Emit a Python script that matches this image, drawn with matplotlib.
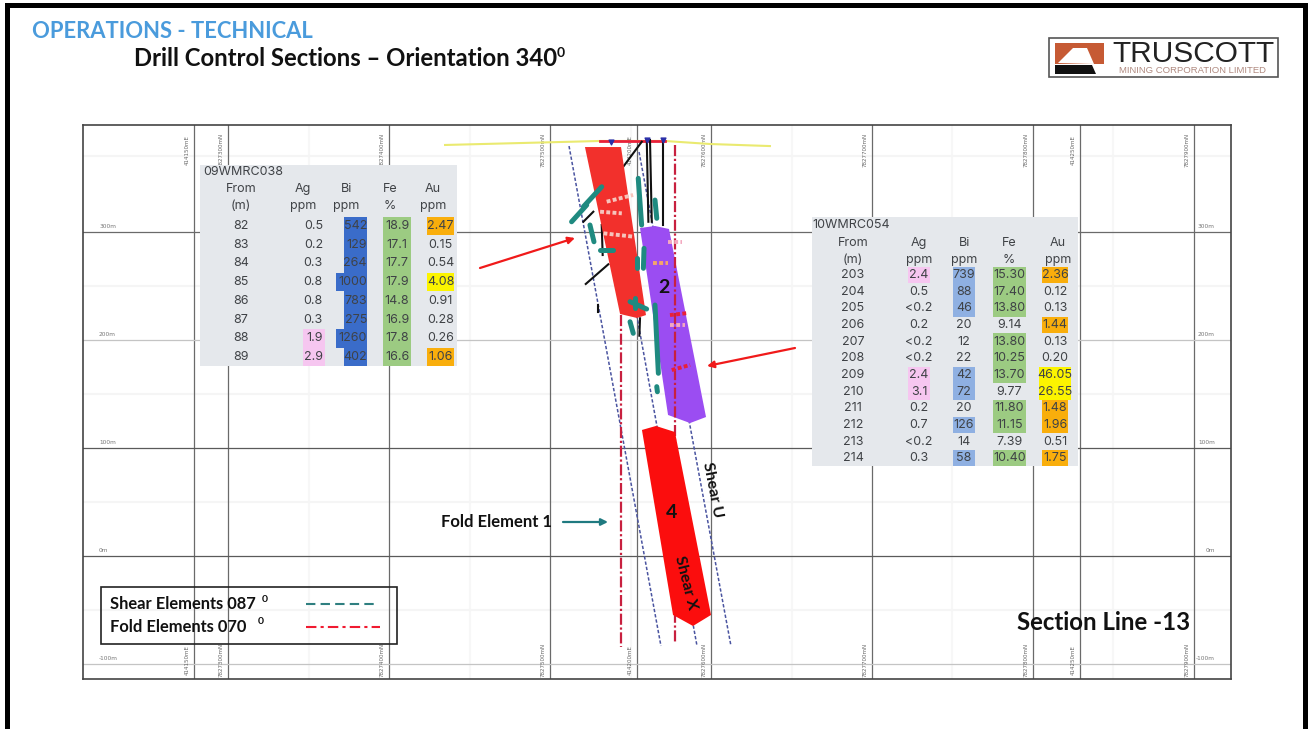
import matplotlib
matplotlib.use("Agg")
import matplotlib.pyplot as plt
from matplotlib.patches import Polygon, Rectangle

# section coordinates: northing given as metres past 7827000, RL in metres
NORTH_BASE = 7827000

northing_grid = [300, 400, 500, 600, 700, 800, 900]
easting_grid = [414150, 414200, 414250]
easting_grid_pos = [278.9, 554.0, 829.0]   # where the eastings fall on the northing scale
rl_grid = [300, 200, 100, 0, -100]
rl_grid_col = ["#6a6a6a", "#c4c4c4", "#5a5a5a", "#5a5a5a", "#c4c4c4"]
faint_north = [350, 450, 550, 650, 750, 850]
faint_rl = [370, 250, 150, 50, -50]

surface_n = [434.8, 531.1, 571.4, 599.4, 636.6]
surface_rl = [380.6, 384.3, 384.3, 381.5, 379.6]

lode1_n = [521.7, 544.1, 559.6, 554.0, 543.5]
lode1_rl = [378.7, 378.7, 223.1, 220.4, 224.1]
lode2_n = [555.9, 565.2, 573.9, 596.9, 587.0, 573.3]
lode2_rl = [303.7, 305.6, 302.8, 128.7, 123.1, 130.6]
lode4_n = [557.1, 565.8, 577.6, 600.0, 588.8, 576.4]
lode4_rl = [116.7, 120.4, 114.8, -54.6, -64.8, -54.6]

shear_n = [(511.8, 568.9), (535.4, 591.3), (555.3, 612.4)]
shear_rl = [(379.6, -83.3), (374.1, -83.3), (374.1, -83.3)]
fold_n = [(544.1, 544.1), (577.6, 577.6)]
fold_rl = [(223.0, -84.3), (380.6, -80.6)]

holes_n = [(557.0, 545.5), (560.1, 561.1), (562.1, 563.2), (570.4, 570.4), (526.9, 520.7),
           (536.2, 522.2), (532.1, 532.7), (555.9, 555.5), (530.0, 530.0), (540.4, 545.5)]
holes_rl = [(383.6, 360.5), (385.2, 309.5), (385.2, 309.5), (385.2, 306.5), (318.8, 309.5),
            (270.1, 251.9), (306.5, 278.7), (220.1, 204.0), (232.4, 226.2), (277.1, 281.8)]
collar_n = [537.9, 560.3, 570.2]
collar_rl = [383.3, 385.2, 385.2]

teal_n = [(532.1, 520.7), (522.8, 513.4), (524.8, 527.3), (531.1, 539.3), (554.8, 556.9),
          (565.2, 566.3), (558.4, 558.0), (553.9, 553.9), (549.7, 560.0), (552.8, 552.8),
          (565.2, 567.3), (549.7, 551.7), (566.3, 566.7)]
teal_rl = [(341.9, 323.4), (325.0, 309.5), (306.5, 291.0), (283.3, 283.3), (349.7, 306.5),
           (329.6, 312.7), (284.9, 266.4), (275.6, 266.4), (235.5, 228.7), (238.6, 229.4),
           (232.4, 169.2), (216.9, 206.2), (156.8, 152.1)]
assay_n = [(535.2, 551.6), (531.1, 544.6), (533.2, 551.9), (564.0, 573.3), (574.5, 585.7),
           (575.6, 587.0), (574.5, 583.9), (573.3, 581.8)]
assay_rl = [(328.1, 334.3), (318.8, 317.3), (298.8, 295.7), (271.3, 271.3), (223.1, 225.0),
            (172.2, 176.9), (213.9, 213.9), (291.0, 291.0)]
assay_col = ["#f6c4bc", "#f6c4bc", "#f6c4bc", "#f5a56a", "#e8203a", "#e8203a", "#f3a9c0", "#f3a9c0"]

# assay tables
t1_from = ["82", "83", "84", "85", "86", "87", "88", "89"]
t1_ag = ["0.5", "0.2", "0.3", "0.8", "0.8", "0.3", "1.9", "2.9"]
t1_bi = ["542", "129", "264", "1000", "783", "275", "1260", "402"]
t1_fe = ["18.9", "17.1", "17.7", "17.9", "14.8", "16.9", "17.8", "16.6"]
t1_au = ["2.47", "0.15", "0.54", "4.08", "0.91", "0.28", "0.26", "1.06"]

t2_from = ["203", "204", "205", "206", "207", "208", "209", "210", "211", "212", "213", "214"]
t2_ag = ["2.4", "0.5", "<0.2", "0.2", "<0.2", "<0.2", "2.4", "3.1", "0.2", "0.7", "<0.2", "0.3"]
t2_bi = ["739", "88", "46", "20", "12", "22", "42", "72", "20", "126", "14", "58"]
t2_fe = ["15.30", "17.40", "13.80", "9.14", "13.80", "10.25", "13.70", "9.77", "11.80", "11.15", "7.39", "10.40"]
t2_au = ["2.36", "0.12", "0.13", "1.44", "0.13", "0.20", "46.05", "26.55", "1.48", "1.96", "0.51", "1.75"]

PINK = "#f6c6f0"
GREEN = "#9ccb82"
ORANGE = "#f9ae0c"
YELLOW = "#fcf400"
TXT = "#3f4246"
NUMFONT = "Inter"
FS = 9


def num(s):
    return float(s.replace("<", ""))


def cell(ax, band, top, h, col):
    ax.add_patch(Rectangle((band[0], top), band[1] - band[0], h, fc=col, ec="none", zorder=3))


def draw_table(ax, title, cols, box, title_xy, head_y, row0, row_h, from_x, bands, head_x, right_edge, bi_min, bi_col, bi_wide):
    x0, y0, x1, y1 = box
    ax.add_patch(Rectangle((x0, y0), x1 - x0, y1 - y0, fc="#e5e8ec", ec="none", zorder=2))
    ax.text(title_xy[0], title_xy[1], title, fontsize=FS, family=NUMFONT, color=TXT, va="center", zorder=5)
    names = ["From", "Ag", "Bi", "Fe", "Au"]
    units = ["(m)", "ppm", "ppm", "%", "ppm"]
    for i in range(5):
        ax.text(head_x[i], head_y[0], names[i], fontsize=FS, family=NUMFONT, color=TXT, ha="center", va="center", zorder=5)
        ax.text(head_x[i], head_y[1], units[i], fontsize=FS, family=NUMFONT, color=TXT, ha="center", va="center", zorder=5)
    fr, ag, bi, fe, au = cols
    ag_band, bi_band, fe_band, au_band = bands
    for r in range(len(fr)):
        y = row0 + r * row_h
        top = y - row_h / 2
        # colour bands follow the grade of each sample
        if num(ag[r]) >= 1:
            cell(ax, ag_band, top, row_h, PINK)
        if num(bi[r]) >= bi_min:
            cell(ax, bi_wide if len(bi[r]) == 4 else bi_band, top, row_h, bi_col)
        if num(fe[r]) >= 10:
            cell(ax, fe_band, top, row_h, GREEN)
        if num(au[r]) >= 4:
            wide = (au_band[0] - 3, au_band[1] + 3) if len(au[r]) == 5 else au_band
            cell(ax, wide, top, row_h, YELLOW)
        elif num(au[r]) >= 1:
            cell(ax, au_band, top, row_h, ORANGE)
        ax.text(from_x, y, fr[r], fontsize=FS, family=NUMFONT, color=TXT, ha="center", va="center", zorder=5)
        for vals, band, right in ((ag, ag_band, right_edge[0]), (bi, bi_band, right_edge[1]), (fe, fe_band, None), (au, au_band, None)):
            if right is not None:
                ax.text(right, y, vals[r], fontsize=FS, family=NUMFONT, color=TXT, ha="right", va="center", zorder=5)
            else:
                ax.text((band[0] + band[1]) / 2, y, vals[r], fontsize=FS, family=NUMFONT, color=TXT, ha="center", va="center", zorder=5)


fig = plt.figure(figsize=(13.09, 7.29), dpi=100)

# the section panel, in real section coordinates
sec = fig.add_axes([83 / 1309, 1 - 679 / 729, 1148 / 1309, 554 / 729])
sec.set_xlim(209.9, 923.0)
sec.set_ylim(-113.9, 399.1)
sec.set_xticks([])
sec.set_yticks([])
for s in sec.spines.values():
    s.set_color("#444444")
    s.set_linewidth(1.2)

for n in faint_north:
    sec.axvline(n, color="#f7f7f7", lw=1.5, zorder=0)
for r in faint_rl:
    sec.axhline(r, color="#f5f5f5", lw=1.5, zorder=0)
for n in northing_grid:
    sec.axvline(n, color="#6a6a6a", lw=0.9, zorder=1)
    for y in (0.955, 0.035):
        sec.text(n - 2.5, y, f"{NORTH_BASE + n}mN", rotation=90, fontsize=4, color="#666666",
                 transform=sec.get_xaxis_transform(), ha="right", va="center")
for n, e in zip(easting_grid_pos, easting_grid):
    sec.axvline(n, color="#6a6a6a", lw=0.9, zorder=1)
    for y in (0.955, 0.035):
        sec.text(n - 2.5, y, f"{e}mE", rotation=90, fontsize=4, color="#666666",
                 transform=sec.get_xaxis_transform(), ha="right", va="center")
for r, c in zip(rl_grid, rl_grid_col):
    sec.axhline(r, color=c, lw=0.9, zorder=1)
    sec.text(0.014, r + 5, f"{r}m", fontsize=4.2, color="#777777", transform=sec.get_yaxis_transform(), va="center")
    sec.text(0.986, r + 5, f"{r}m", fontsize=4.2, color="#777777", ha="right",
             transform=sec.get_yaxis_transform(), va="center")

sec.plot(surface_n, surface_rl, color="#eaea70", lw=1.5, zorder=3)
sec.plot(surface_n[1:3], surface_rl[1:3], color="#e8203a", lw=2, zorder=3)

for xs, ys in zip(shear_n, shear_rl):
    sec.plot(xs, ys, color="#4a54a0", lw=1.1, ls=(0, (2.2, 1.3)), zorder=3)
for xs, ys in zip(holes_n, holes_rl):
    sec.plot(xs, ys, color="#111111", lw=1.5, zorder=4)

sec.add_patch(Polygon(list(zip(lode1_n, lode1_rl)), closed=True, fc="#f2302c", ec="none", zorder=5))
sec.add_patch(Polygon(list(zip(lode2_n, lode2_rl)), closed=True, fc="#9b4df2", ec="none", zorder=5))
for xs, ys in zip(fold_n, fold_rl):
    sec.plot(xs, ys, color="#c8203f", lw=1.6, ls=(0, (5, 1.2, 1, 1.2)), zorder=6)
sec.add_patch(Polygon(list(zip(lode4_n, lode4_rl)), closed=True, fc="#fb0d0d", ec="none", zorder=7))

for xs, ys in zip(teal_n, teal_rl):
    sec.plot(xs, ys, color="#1f8a80", lw=3.6, solid_capstyle="round", zorder=8)
for xs, ys, c in zip(assay_n, assay_rl, assay_col):
    sec.plot(xs, ys, color=c, lw=2.8, ls=(0, (1, 0.6)), zorder=8)
sec.scatter(collar_n, collar_rl, marker="v", s=12, color="#2a2fa8", zorder=9)

# slide furniture on top, positioned in image pixels
top = fig.add_axes([0, 0, 1, 1], zorder=5)
top.set_xlim(0, 1309)
top.set_ylim(729, 0)
top.axis("off")
top.patch.set_alpha(0)

top.add_patch(Rectangle((5, 3), 1299, 5, fc="black", ec="none"))
top.add_patch(Rectangle((5, 3), 5, 726, fc="black", ec="none"))
top.add_patch(Rectangle((1303, 3), 5, 726, fc="black", ec="none"))

top.text(32, 31, "OPERATIONS - TECHNICAL", fontsize=15.8, family="Lato", weight="bold", color="#4a9bdc", va="center")
top.text(134, 58, "Drill Control Sections \u2013 Orientation 340", fontsize=17.2, family="Lato", weight="bold",
         color="#111111", va="center")
top.text(557, 53, "0", fontsize=10, family="Lato", weight="bold", color="#111111", va="center")

# logo
top.add_patch(Rectangle((1049, 38), 229, 39, fc="white", ec="#555555", lw=1.2))
top.add_patch(Rectangle((1055, 43), 49, 21, fc="#c65a34", ec="none"))
top.add_patch(Polygon([(1058, 63), (1073, 48), (1087, 48), (1094, 64)], closed=True, fc="white", ec="none"))
top.add_patch(Polygon([(1055, 65), (1092, 65), (1096, 74), (1055, 74)], closed=True, fc="#111111", ec="none"))
top.text(1112, 54, "TRUSCOTT", fontsize=21.5, family="Liberation Sans", color="#222222", va="center")
top.text(1119, 70.5, "MINING CORPORATION LIMITED", fontsize=6.8, family="Liberation Sans", color="#b08a80", va="center")

draw_table(top, "09WMRC038", (t1_from, t1_ag, t1_bi, t1_fe, t1_au), (200, 165, 457, 366), (203, 172), (189, 206),
           226, 18.7, 241, [(303, 325), (344, 367), (383, 411), (427, 454)], [241, 303, 346, 390, 433],
           (323, 367), 100, "#3a6cc9", (336, 367))
draw_table(top, "10WMRC054", (t2_from, t2_ag, t2_bi, t2_fe, t2_au), (812, 217, 1078, 466), (812, 225), (243, 260),
           275, 16.65, 853, [(908, 930), (953, 975), (993, 1026), (1042, 1068)], [853, 919, 964, 1009, 1058],
           (None, None), 40, "#8fb0e2", (953, 975))

# arrows and annotations
top.annotate("", xy=(575, 238), xytext=(480, 268), arrowprops=dict(arrowstyle="-|>", color="#f01a1a", lw=1.6, mutation_scale=10, shrinkA=0, shrinkB=0))
top.annotate("", xy=(707, 366), xytext=(795, 348), arrowprops=dict(arrowstyle="-|>", color="#f01a1a", lw=1.6, mutation_scale=10, shrinkA=0, shrinkB=0))
top.annotate("", xy=(608, 522), xytext=(563, 522), arrowprops=dict(arrowstyle="-|>", color="#1f7a80", lw=1.6, mutation_scale=10, shrinkA=0, shrinkB=0))

top.text(441, 522, "Fold Element 1", fontsize=12, family="Lato", weight="bold", color="#111111", va="center")
top.text(664, 287, "2", fontsize=14, family="Lato", weight="bold", color="#111111", ha="center", va="center", zorder=9)
top.text(672, 512, "4", fontsize=14, family="Lato", weight="bold", color="#111111", ha="center", va="center", zorder=9)
top.text(712, 490, "Shear U", fontsize=11.5, family="Lato", weight="bold", color="#111111", rotation=-79, ha="center", va="center", rotation_mode="anchor")
top.text(686, 583, "Shear X", fontsize=11.5, family="Lato", weight="bold", color="#111111", rotation=-76, ha="center", va="center", rotation_mode="anchor")
top.text(1017, 622, "Section Line -13", fontsize=17.3, family="Lato", weight="bold", color="#111111", va="center")

# legend, the grid shows through it
top.add_patch(Rectangle((101, 587), 296, 57, fc="none", ec="#222222", lw=1.2))
top.text(110, 604, "Shear Elements 087", fontsize=11.9, family="Lato", weight="bold", color="#111111", va="center")
top.text(262, 599, "0", fontsize=7.5, family="Lato", weight="bold", color="#111111", va="center")
top.text(110, 627, "Fold Elements 070", fontsize=11.9, family="Lato", weight="bold", color="#111111", va="center")
top.text(258, 622, "0", fontsize=7.5, family="Lato", weight="bold", color="#111111", va="center")
top.plot([306, 378], [604, 604], color="#2f7f80", lw=1.5, ls=(0, (4.5, 2.5)))
top.plot([306, 380], [627, 627], color="#f01a30", lw=1.5, ls=(0, (5, 2, 1.5, 2)))

fig.savefig("out.png", dpi=100)
